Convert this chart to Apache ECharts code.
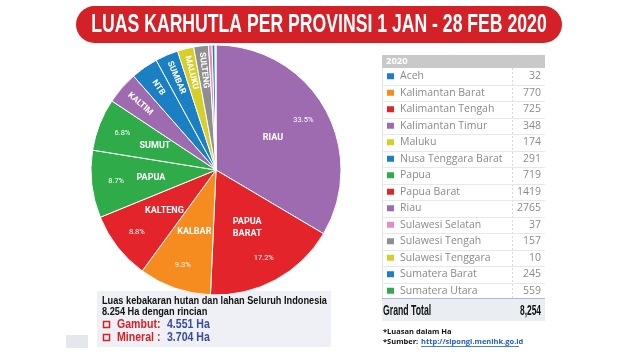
<!DOCTYPE html>
<html><head><meta charset="utf-8">
<script src="https://cdn.jsdelivr.net/npm/echarts@6/dist/echarts.min.js"></script>
<style>html,body{margin:0;padding:0;background:#fff}#c{width:640px;height:360px}</style>
</head><body><div id="c"></div>
<script>
// ---- data ----
const titleText = 'LUAS KARHUTLA PER PROVINSI 1 JAN - 28 FEB 2020';
const tableHeader = '2020';
const provinces = ['Aceh','Kalimantan Barat','Kalimantan Tengah','Kalimantan Timur','Maluku','Nusa Tenggara Barat','Papua','Papua Barat','Riau','Sulawesi Selatan','Sulawesi Tengah','Sulawesi Tenggara','Sumatera Barat','Sumatera Utara'];
const areas = [32,770,725,348,174,291,719,1419,2765,37,157,10,245,559];
const shortNames = ['ACEH','KALBAR','KALTENG','KALTIM','MALUKU','NTB','PAPUA','PAPUA\nBARAT','RIAU','SULSEL','SULTENG','SULTRA','SUMBAR','SUMUT'];
const grandTotalLabel = 'Grand Total';
const grandTotal = '8,254';
const summaryLine1 = 'Luas kebakaran hutan dan lahan Seluruh Indonesia';
const summaryLine2 = '8.254 Ha dengan rincian';
const gambutLabel = 'Gambut:';
const gambutValue = '4.551 Ha';
const mineralLabel = 'Mineral :';
const mineralValue = '3.704 Ha';
const note1 = '*Luasan dalam Ha';
const note2a = '*Sumber: ';
const note2b = 'http://sipongi.menlhk.go.id';

// ---- styles ----
const C = {blue:'#1b7fc3', orange:'#f68b1f', red:'#e3242b', purple:'#9f6bb0', yellow:'#d6cf2a', green:'#2fac49', pink:'#e88bbf', gray:'#8f8f91'};
const provColors = [C.blue,C.orange,C.red,C.purple,C.yellow,C.blue,C.green,C.red,C.purple,C.pink,C.gray,C.yellow,C.blue,C.green];

const total = areas.reduce((a,b)=>a+b,0);
const order = areas.map((v,i)=>i).sort((a,b)=>areas[b]-areas[a]);

const mainData = order.map(i=>({
  name: shortNames[i], value: areas[i],
  itemStyle:{color: provColors[i]},
  label:{show: areas[i] >= 500}
}));
const overlayData = order.map(i=>{
  const v = areas[i];
  let label;
  if (v >= 500) label = {show:true, formatter: (v/total*100).toFixed(1)+'%', fontSize:7.5, fontWeight:'normal', rotate:0};
  else if (v >= 150) label = {show:true, formatter: shortNames[i], fontSize:8.5, fontWeight:'bold', rotate:'radial'};
  else label = {show:false};
  return {name: shortNames[i]+'_o', value: v, label};
});

const g = [];
// title
g.push({type:'rect', shape:{x:76,y:6,width:486,height:37,r:18.5}, style:{fill:'#d42027'}});
g.push({type:'text', x:319, y:25.5, scaleX:0.705, style:{text:titleText, x:0, y:0, align:'center', verticalAlign:'middle', fill:'#fff', font:'bold 25px "Liberation Sans", Arial, sans-serif'}});

// table
const tX = 382, tR = 545, rowH = 16.5, rowTop = 68;
g.push({type:'rect', shape:{x:tX,y:55,width:tR-tX,height:13}, style:{fill:'#c9c9c9'}});
g.push({type:'text', x:386, y:61.5, style:{text:tableHeader, fill:'#fff', font:'bold 9.5px "Open Sans", sans-serif', verticalAlign:'middle'}});
g.push({type:'line', shape:{x1:tX+0.5,y1:68,x2:tX+0.5,y2:298}, style:{stroke:'#e3e3e3', lineWidth:1}});
g.push({type:'line', shape:{x1:512.5,y1:68,x2:512.5,y2:298}, style:{stroke:'#d9d9d9', lineWidth:1, lineDash:[2,2]}});
provinces.forEach((p,i)=>{
  const top = rowTop + i*rowH, cy = top + rowH/2;
  g.push({type:'line', shape:{x1:tX,y1:Math.round(top+rowH)+0.5,x2:tR,y2:Math.round(top+rowH)+0.5}, style:{stroke:'#e8e8e8', lineWidth:1}});
  g.push({type:'rect', shape:{x:387,y:cy-3,width:7,height:6}, style:{fill:provColors[i]}});
  g.push({type:'text', x:400, y:cy, style:{text:p, fill:'#8a8a8a', font:'10.5px "Open Sans", sans-serif', verticalAlign:'middle'}});
  g.push({type:'text', x:541, y:cy, style:{text:String(areas[i]), fill:'#8a8a8a', font:'10.5px "Open Sans", sans-serif', verticalAlign:'middle', align:'right'}});
});
g.push({type:'rect', shape:{x:tX,y:299,width:tR-tX,height:22}, style:{fill:'#eaeef3'}});
g.push({type:'line', shape:{x1:tX,y1:298.5,x2:tR,y2:298.5}, style:{stroke:'#a8bdd6', lineWidth:1}});
g.push({type:'text', x:383, y:311, scaleX:0.6, style:{text:grandTotalLabel, x:0, y:0, fill:'#111', font:'bold 14.5px "Liberation Sans", Arial, sans-serif', verticalAlign:'middle'}});
g.push({type:'text', x:541, y:311, scaleX:0.58, style:{text:grandTotal, x:0, y:0, fill:'#111', font:'bold 14.5px "Liberation Sans", Arial, sans-serif', verticalAlign:'middle', align:'right'}});
g.push({type:'text', x:383, y:332, style:{text:note1, fill:'#111', font:'bold 7.5px "Open Sans", sans-serif', verticalAlign:'middle'}});
g.push({type:'text', x:383, y:342, style:{text:note2a, fill:'#111', font:'bold 7.5px "Open Sans", sans-serif', verticalAlign:'middle'}});
g.push({type:'text', x:421, y:342, style:{text:note2b, fill:'#1f5fbf', font:'bold 7.5px "Open Sans", sans-serif', verticalAlign:'middle'}});
g.push({type:'line', shape:{x1:421,y1:346.5,x2:519,y2:346.5}, style:{stroke:'#1f5fbf', lineWidth:0.8}});

// summary box
g.push({type:'rect', shape:{x:66,y:335,width:22,height:13}, style:{fill:'#e4e7ec'}});
g.push({type:'rect', shape:{x:97,y:291,width:234,height:56}, style:{fill:'#eef0f5'}});
g.push({type:'text', x:102, y:301.5, scaleX:0.92, style:{text:summaryLine1, x:0, y:0, fill:'#111', font:'bold 10px "Liberation Sans", Arial, sans-serif', verticalAlign:'middle'}});
g.push({type:'text', x:102, y:312, scaleX:0.92, style:{text:summaryLine2, x:0, y:0, fill:'#111', font:'bold 10px "Liberation Sans", Arial, sans-serif', verticalAlign:'middle'}});
[[325,gambutLabel,gambutValue],[338,mineralLabel,mineralValue]].forEach(([y,l,v])=>{
  g.push({type:'rect', shape:{x:103.5,y:y-3.5,width:6,height:6}, style:{fill:'none', stroke:'#d42027', lineWidth:1.5}});
  g.push({type:'text', x:117, y:y, scaleX:0.88, style:{text:l, x:0, y:0, fill:'#d42027', font:'bold 12px "Liberation Sans", Arial, sans-serif', verticalAlign:'middle'}});
  g.push({type:'text', x:167, y:y, scaleX:0.88, style:{text:v, x:0, y:0, fill:'#3a4a9f', font:'bold 12px "Liberation Sans", Arial, sans-serif', verticalAlign:'middle'}});
});

const chart = echarts.init(document.getElementById('c'), null, {renderer:'canvas'});
chart.setOption({
  animation:false,
  backgroundColor:'#fff',
  series:[
    {type:'pie', center:[216,170], radius:[0,125], startAngle:90, clockwise:true, silent:true,
     itemStyle:{borderColor:'#fff', borderWidth:1},
     label:{position:'inside', color:'#fff', fontWeight:'bold', fontSize:9, fontFamily:'Roboto, Arial, sans-serif', lineHeight:12, formatter:'{b}'},
     labelLine:{show:false}, emphasis:{disabled:true}, data:mainData},
    {type:'pie', center:[216,170], radius:[70,125], startAngle:90, clockwise:true, silent:true, z:3,
     itemStyle:{color:'rgba(0,0,0,0)', borderWidth:0},
     label:{position:'inside', color:'#fff', fontFamily:'Roboto, Arial, sans-serif'},
     labelLine:{show:false}, emphasis:{disabled:true}, data:overlayData}
  ],
  graphic: g
});
</script></body></html>
